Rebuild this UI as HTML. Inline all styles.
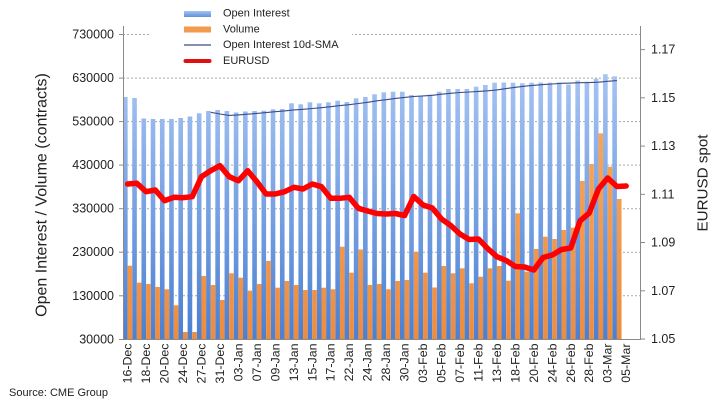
<!DOCTYPE html>
<html><head><meta charset="utf-8"><style>
html,body{margin:0;padding:0;background:#fff;}
svg{display:block;font-family:"Liberation Sans",Arial,sans-serif;}
</style></head><body>
<svg width="718" height="406" viewBox="0 0 718 406" xmlns="http://www.w3.org/2000/svg">
<defs>
<linearGradient id="gb" gradientUnits="userSpaceOnUse" x1="0" y1="75" x2="0" y2="340">
<stop offset="0" stop-color="#a6c4f3"/><stop offset="1" stop-color="#4a7fd2"/>
</linearGradient>
<linearGradient id="go" gradientUnits="userSpaceOnUse" x1="0" y1="130" x2="0" y2="340">
<stop offset="0" stop-color="#f5a65c"/><stop offset="1" stop-color="#ee8c3e"/>
</linearGradient>
<linearGradient id="gbl" x1="0" y1="0" x2="0" y2="1">
<stop offset="0" stop-color="#a6c4f3"/><stop offset="1" stop-color="#5f90db"/>
</linearGradient>
</defs>
<rect width="718" height="406" fill="#fff"/>
<!-- gridlines -->
<g stroke="#a8a8a8" stroke-width="1" stroke-dasharray="2,2">
<line x1="123" y1="34.5" x2="640" y2="34.5"/>
<line x1="123" y1="78.1" x2="640" y2="78.1"/>
<line x1="123" y1="121.6" x2="640" y2="121.6"/>
<line x1="123" y1="165.1" x2="640" y2="165.1"/>
<line x1="123" y1="208.7" x2="640" y2="208.7"/>
<line x1="123" y1="252.2" x2="640" y2="252.2"/>
<line x1="123" y1="295.8" x2="640" y2="295.8"/>
</g>
<!-- blue bars -->
<g fill="url(#gb)">
<rect x="123.00" y="97" width="4.62" height="242.5"/>
<rect x="132.23" y="98" width="4.62" height="241.5"/>
<rect x="141.46" y="118.5" width="4.62" height="221"/>
<rect x="150.70" y="119" width="4.62" height="220.5"/>
<rect x="159.93" y="119" width="4.62" height="220.5"/>
<rect x="169.16" y="119" width="4.62" height="220.5"/>
<rect x="178.39" y="118" width="4.62" height="221.5"/>
<rect x="187.62" y="116.5" width="4.62" height="223"/>
<rect x="196.86" y="113.3" width="4.62" height="226.2"/>
<rect x="206.09" y="111" width="4.62" height="228.5"/>
<rect x="215.32" y="110" width="4.62" height="229.5"/>
<rect x="224.55" y="111" width="4.62" height="228.5"/>
<rect x="233.78" y="112.5" width="4.62" height="227"/>
<rect x="243.02" y="111.5" width="4.62" height="228"/>
<rect x="252.25" y="111" width="4.62" height="228.5"/>
<rect x="261.48" y="110.7" width="4.62" height="228.8"/>
<rect x="270.71" y="109.3" width="4.62" height="230.2"/>
<rect x="279.94" y="109" width="4.62" height="230.5"/>
<rect x="289.18" y="103.3" width="4.62" height="236.2"/>
<rect x="298.41" y="104.3" width="4.62" height="235.2"/>
<rect x="307.64" y="102.3" width="4.62" height="237.2"/>
<rect x="316.87" y="103.3" width="4.62" height="236.2"/>
<rect x="326.10" y="102.3" width="4.62" height="237.2"/>
<rect x="335.34" y="100.7" width="4.62" height="238.8"/>
<rect x="344.57" y="102" width="4.62" height="237.5"/>
<rect x="353.80" y="98.3" width="4.62" height="241.2"/>
<rect x="363.03" y="97" width="4.62" height="242.5"/>
<rect x="372.26" y="94.3" width="4.62" height="245.2"/>
<rect x="381.50" y="92.3" width="4.62" height="247.2"/>
<rect x="390.73" y="91.7" width="4.62" height="247.8"/>
<rect x="399.96" y="91.7" width="4.62" height="247.8"/>
<rect x="409.19" y="95" width="4.62" height="244.5"/>
<rect x="418.42" y="95.7" width="4.62" height="243.8"/>
<rect x="427.66" y="94.7" width="4.62" height="244.8"/>
<rect x="436.89" y="91.7" width="4.62" height="247.8"/>
<rect x="446.12" y="89" width="4.62" height="250.5"/>
<rect x="455.35" y="89" width="4.62" height="250.5"/>
<rect x="464.58" y="89" width="4.62" height="250.5"/>
<rect x="473.82" y="86.7" width="4.62" height="252.8"/>
<rect x="483.05" y="85" width="4.62" height="254.5"/>
<rect x="492.28" y="82.7" width="4.62" height="256.8"/>
<rect x="501.51" y="82.5" width="4.62" height="257"/>
<rect x="510.74" y="82.7" width="4.62" height="256.8"/>
<rect x="519.98" y="83.3" width="4.62" height="256.2"/>
<rect x="529.21" y="82.7" width="4.62" height="256.8"/>
<rect x="538.44" y="82.5" width="4.62" height="257"/>
<rect x="547.67" y="82.7" width="4.62" height="256.8"/>
<rect x="556.90" y="82.5" width="4.62" height="257"/>
<rect x="566.14" y="84.5" width="4.62" height="255"/>
<rect x="575.37" y="80.5" width="4.62" height="259"/>
<rect x="584.60" y="81.7" width="4.62" height="257.8"/>
<rect x="593.83" y="78.7" width="4.62" height="260.8"/>
<rect x="603.06" y="74.2" width="4.62" height="265.3"/>
<rect x="612.30" y="76.3" width="4.62" height="263.2"/>
</g>
<!-- orange bars -->
<g fill="url(#go)">
<rect x="127.62" y="265.7" width="4.62" height="73.8"/>
<rect x="136.85" y="282.7" width="4.62" height="56.8"/>
<rect x="146.08" y="284" width="4.62" height="55.5"/>
<rect x="155.32" y="287" width="4.62" height="52.5"/>
<rect x="164.55" y="289.3" width="4.62" height="50.2"/>
<rect x="173.78" y="305.3" width="4.62" height="34.2"/>
<rect x="183.01" y="332" width="4.62" height="7.5"/>
<rect x="192.24" y="332" width="4.62" height="7.5"/>
<rect x="201.48" y="276" width="4.62" height="63.5"/>
<rect x="210.71" y="285" width="4.62" height="54.5"/>
<rect x="219.94" y="300" width="4.62" height="39.5"/>
<rect x="229.17" y="273.3" width="4.62" height="66.2"/>
<rect x="238.40" y="277.7" width="4.62" height="61.8"/>
<rect x="247.64" y="290.7" width="4.62" height="48.8"/>
<rect x="256.87" y="284" width="4.62" height="55.5"/>
<rect x="266.10" y="261" width="4.62" height="78.5"/>
<rect x="275.33" y="287.7" width="4.62" height="51.8"/>
<rect x="284.56" y="281" width="4.62" height="58.5"/>
<rect x="293.80" y="285" width="4.62" height="54.5"/>
<rect x="303.03" y="290" width="4.62" height="49.5"/>
<rect x="312.26" y="290" width="4.62" height="49.5"/>
<rect x="321.49" y="287.7" width="4.62" height="51.8"/>
<rect x="330.72" y="289.3" width="4.62" height="50.2"/>
<rect x="339.96" y="246.7" width="4.62" height="92.8"/>
<rect x="349.19" y="272.7" width="4.62" height="66.8"/>
<rect x="358.42" y="249.5" width="4.62" height="90"/>
<rect x="367.65" y="285" width="4.62" height="54.5"/>
<rect x="376.88" y="284" width="4.62" height="55.5"/>
<rect x="386.12" y="289.3" width="4.62" height="50.2"/>
<rect x="395.35" y="281" width="4.62" height="58.5"/>
<rect x="404.58" y="280" width="4.62" height="59.5"/>
<rect x="413.81" y="251.7" width="4.62" height="87.8"/>
<rect x="423.04" y="272.7" width="4.62" height="66.8"/>
<rect x="432.28" y="287.5" width="4.62" height="52"/>
<rect x="441.51" y="266" width="4.62" height="73.5"/>
<rect x="450.74" y="273.3" width="4.62" height="66.2"/>
<rect x="459.97" y="268.3" width="4.62" height="71.2"/>
<rect x="469.20" y="283.3" width="4.62" height="56.2"/>
<rect x="478.44" y="276.7" width="4.62" height="62.8"/>
<rect x="487.67" y="268.3" width="4.62" height="71.2"/>
<rect x="496.90" y="266" width="4.62" height="73.5"/>
<rect x="506.13" y="280.7" width="4.62" height="58.8"/>
<rect x="515.36" y="213.3" width="4.62" height="126.2"/>
<rect x="524.60" y="271.7" width="4.62" height="67.8"/>
<rect x="533.83" y="249" width="4.62" height="90.5"/>
<rect x="543.06" y="236.7" width="4.62" height="102.8"/>
<rect x="552.29" y="239" width="4.62" height="100.5"/>
<rect x="561.52" y="230" width="4.62" height="109.5"/>
<rect x="570.76" y="227.7" width="4.62" height="111.8"/>
<rect x="579.99" y="181" width="4.62" height="158.5"/>
<rect x="589.22" y="164" width="4.62" height="175.5"/>
<rect x="598.45" y="133.3" width="4.62" height="206.2"/>
<rect x="607.68" y="166.7" width="4.62" height="172.8"/>
<rect x="616.92" y="199" width="4.62" height="140.5"/>
</g>
<!-- SMA line -->
<polyline fill="none" stroke="#3b4c88" stroke-width="1.1" stroke-linejoin="round" points="210.71,112.3 219.94,114.0 229.17,115.4 238.40,114.9 247.64,114.2 256.87,113.4 266.10,112.6 275.33,111.7 284.56,110.9 293.80,109.9 303.03,109.3 312.26,108.5 321.49,107.7 330.72,106.7 339.96,105.6 349.19,104.7 358.42,103.5 367.65,102.3 376.88,100.8 386.12,99.7 395.35,98.4 404.58,97.4 413.81,96.5 423.04,95.9 432.28,95.3 441.51,94.2 450.74,93.3 459.97,92.5 469.20,92 478.44,91.4 487.67,90.8 496.90,89.9 506.13,88.6 515.36,87.3 524.60,86.2 533.83,85.3 543.06,84.6 552.29,84 561.52,83.3 570.76,83.1 579.99,82.7 589.22,82.6 598.45,82.2 607.68,81.3 616.92,80.6"/>
<!-- EURUSD line -->
<polyline fill="none" stroke="#ff0000" stroke-width="5.5" stroke-linejoin="round" stroke-linecap="round" points="127.62,184 136.85,183.3 146.08,191.7 155.32,190 164.55,200.7 173.78,197.3 183.01,197.7 192.24,196.7 201.48,176.7 210.71,170.7 219.94,165.7 229.17,176.7 238.40,180.7 247.64,170.7 256.87,181.7 266.10,194 275.33,194 284.56,191.7 293.80,187.3 303.03,189 312.26,184 321.49,186.7 330.72,198.3 339.96,198.3 349.19,197.3 358.42,208.3 367.65,211 376.88,213.5 386.12,214 395.35,213.5 404.58,215.5 413.81,196.5 423.04,205 432.28,208 441.51,219 450.74,225.5 459.97,234 469.20,239.5 478.44,239 487.67,248.5 496.90,256.7 506.13,260.5 515.36,266.5 524.60,267 533.83,270 543.06,257.5 552.29,255 561.52,249.5 570.76,248 579.99,221 589.22,213 598.45,189 607.68,178 616.92,186.5 626.15,186"/>
<!-- axes -->
<g stroke="#8a8a8a" stroke-width="1" fill="none">
<line x1="123.5" y1="26" x2="123.5" y2="340"/>
<line x1="640.5" y1="26" x2="640.5" y2="340"/>
<line x1="123" y1="339.5" x2="641" y2="339.5"/>
<line x1="119" y1="34.5" x2="123.5" y2="34.5"/>
<line x1="119" y1="78.1" x2="123.5" y2="78.1"/>
<line x1="119" y1="121.6" x2="123.5" y2="121.6"/>
<line x1="119" y1="165.1" x2="123.5" y2="165.1"/>
<line x1="119" y1="208.7" x2="123.5" y2="208.7"/>
<line x1="119" y1="252.2" x2="123.5" y2="252.2"/>
<line x1="119" y1="295.8" x2="123.5" y2="295.8"/>
<line x1="119" y1="339.5" x2="123.5" y2="339.5"/>
<line x1="640.5" y1="49.6" x2="645" y2="49.6"/>
<line x1="640.5" y1="97.8" x2="645" y2="97.8"/>
<line x1="640.5" y1="146.1" x2="645" y2="146.1"/>
<line x1="640.5" y1="194.3" x2="645" y2="194.3"/>
<line x1="640.5" y1="242.5" x2="645" y2="242.5"/>
<line x1="640.5" y1="290.8" x2="645" y2="290.8"/>
<line x1="640.5" y1="339" x2="645" y2="339"/>
</g>
<!-- legend background -->
<rect x="150" y="0" width="202" height="70" fill="#fff"/>
<rect x="184" y="11" width="27" height="6" fill="url(#gbl)"/>
<rect x="184" y="26.5" width="27" height="6" fill="#f29a4d"/>
<line x1="184" y1="45" x2="211" y2="45" stroke="#3b4c88" stroke-width="1.2"/>
<line x1="185.5" y1="61" x2="209.5" y2="61" stroke="#e01010" stroke-width="4" stroke-linecap="round"/>
<g font-size="11" fill="#222" dominant-baseline="central">
<text x="223" y="13.5">Open Interest</text>
<text x="223" y="29.5">Volume</text>
<text x="223" y="45">Open Interest 10d-SMA</text>
<text x="223" y="61">EURUSD</text>
</g>
<!-- left tick labels -->
<g font-size="12.5" fill="#222" text-anchor="end" dominant-baseline="central">
<text x="114" y="34.5">730000</text>
<text x="114" y="78.1">630000</text>
<text x="114" y="121.6">530000</text>
<text x="114" y="165.1">430000</text>
<text x="114" y="208.7">330000</text>
<text x="114" y="252.2">230000</text>
<text x="114" y="295.8">130000</text>
<text x="114" y="339.5">30000</text>
</g>
<!-- right tick labels -->
<g font-size="12.5" fill="#222" dominant-baseline="central">
<text x="651" y="49.6">1.17</text>
<text x="651" y="97.8">1.15</text>
<text x="651" y="146.1">1.13</text>
<text x="651" y="194.3">1.11</text>
<text x="651" y="242.5">1.09</text>
<text x="651" y="290.8">1.07</text>
<text x="651" y="339">1.05</text>
</g>
<!-- axis titles -->
<text transform="translate(42,195) rotate(-90)" font-size="16" fill="#222" text-anchor="middle" dominant-baseline="central">Open Interest / Volume (contracts)</text>
<text transform="translate(703,183) rotate(-90)" font-size="15.2" fill="#222" text-anchor="middle" dominant-baseline="central">EURUSD spot</text>
<!-- x labels -->
<g font-size="12.4" fill="#222" text-anchor="end" dominant-baseline="central">
<text transform="translate(127.62,343.5) rotate(-90)">16-Dec</text>
<text transform="translate(146.08,343.5) rotate(-90)">18-Dec</text>
<text transform="translate(164.55,343.5) rotate(-90)">20-Dec</text>
<text transform="translate(183.01,343.5) rotate(-90)">24-Dec</text>
<text transform="translate(201.48,343.5) rotate(-90)">27-Dec</text>
<text transform="translate(219.94,343.5) rotate(-90)">31-Dec</text>
<text transform="translate(238.40,343.5) rotate(-90)">03-Jan</text>
<text transform="translate(256.87,343.5) rotate(-90)">07-Jan</text>
<text transform="translate(275.33,343.5) rotate(-90)">09-Jan</text>
<text transform="translate(293.80,343.5) rotate(-90)">13-Jan</text>
<text transform="translate(312.26,343.5) rotate(-90)">15-Jan</text>
<text transform="translate(330.72,343.5) rotate(-90)">17-Jan</text>
<text transform="translate(349.19,343.5) rotate(-90)">22-Jan</text>
<text transform="translate(367.65,343.5) rotate(-90)">24-Jan</text>
<text transform="translate(386.12,343.5) rotate(-90)">28-Jan</text>
<text transform="translate(404.58,343.5) rotate(-90)">30-Jan</text>
<text transform="translate(423.04,343.5) rotate(-90)">03-Feb</text>
<text transform="translate(441.51,343.5) rotate(-90)">05-Feb</text>
<text transform="translate(459.97,343.5) rotate(-90)">07-Feb</text>
<text transform="translate(478.44,343.5) rotate(-90)">11-Feb</text>
<text transform="translate(496.90,343.5) rotate(-90)">13-Feb</text>
<text transform="translate(515.36,343.5) rotate(-90)">18-Feb</text>
<text transform="translate(533.83,343.5) rotate(-90)">20-Feb</text>
<text transform="translate(552.29,343.5) rotate(-90)">24-Feb</text>
<text transform="translate(570.76,343.5) rotate(-90)">26-Feb</text>
<text transform="translate(589.22,343.5) rotate(-90)">28-Feb</text>
<text transform="translate(607.68,343.5) rotate(-90)">03-Mar</text>
<text transform="translate(626.15,343.5) rotate(-90)">05-Mar</text>
</g>
<text x="9" y="393" font-size="11" fill="#222" dominant-baseline="central">Source: CME Group</text>
</svg>
</body></html>
